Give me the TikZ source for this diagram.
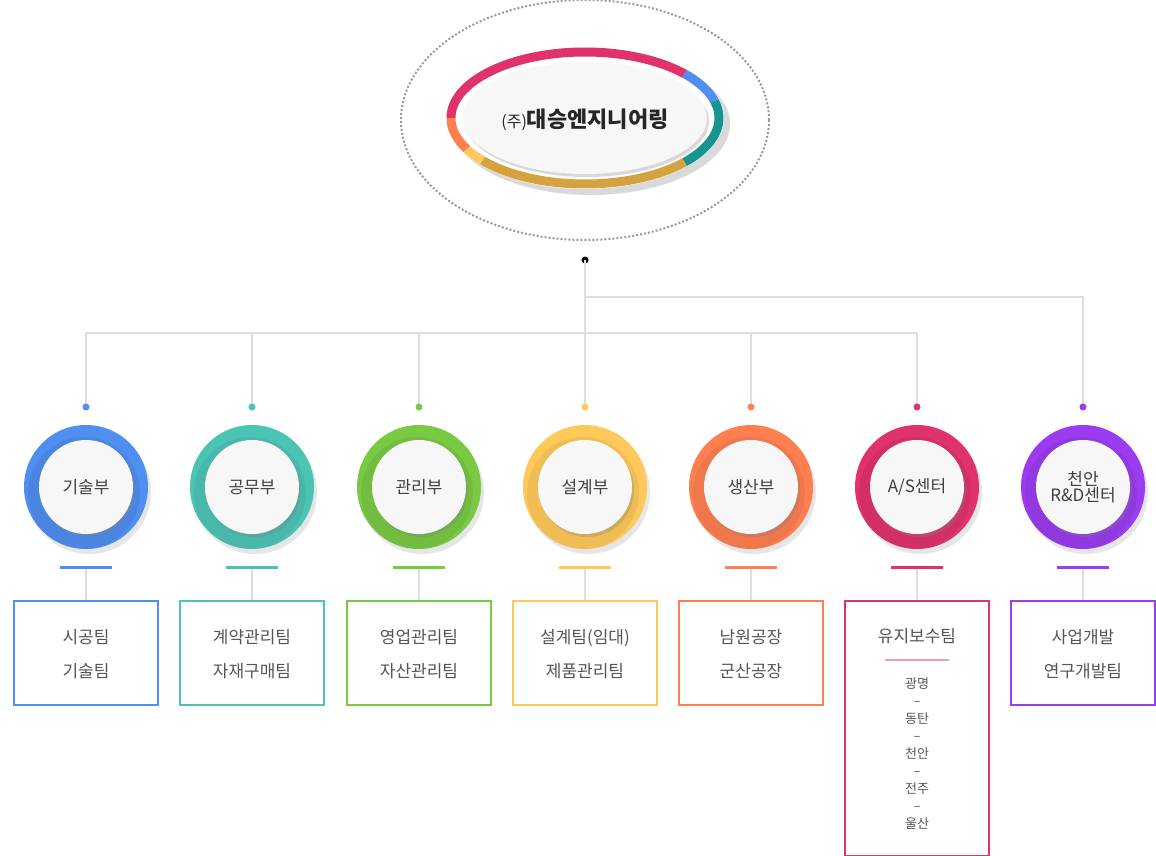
\documentclass[tikz,border=0pt]{standalone}
\usepackage{fontspec}
\setmainfont{Noto Sans CJK KR}
\usetikzlibrary{shadows,calc}
\definecolor{cBlue}{HTML}{4F8FF0}
\definecolor{cTeal}{HTML}{4CC4B4}
\definecolor{cGreen}{HTML}{7AC943}
\definecolor{cYellow}{HTML}{FFC85A}
\definecolor{cOrange}{HTML}{FF7F50}
\definecolor{cPink}{HTML}{E0336B}
\definecolor{cPurple}{HTML}{9B3CF0}
\definecolor{cGold}{HTML}{D4A23E}
\definecolor{lineGray}{HTML}{DDDDDD}
\definecolor{txt}{HTML}{555555}
\tikzset{
  wire/.style={lineGray, line width=2pt},
  ring/.style={circle, minimum size=124pt, inner sep=0pt},
  knob/.style={circle, minimum size=94pt, inner sep=0pt, fill=gray!6, drop shadow={opacity=0.3, shadow xshift=2pt, shadow yshift=-3pt}, font=\fontsize{17}{19}\selectfont, text=black!75, align=center},
  teambox/.style={draw, line width=1.5pt, minimum width=144pt, minimum height=104pt, anchor=north, inner sep=0pt},
  teamtxt/.style={font=\fontsize{17}{34}\selectfont, text=txt, align=center},
}
\begin{document}
\begin{tikzpicture}[x=1pt, y=-1pt]
    \useasboundingbox (0,0) rectangle (1156,856);
    % top
    \draw[gray!80, line width=2pt, dotted] (585,120) ellipse [x radius=184, y radius=120];
    \fill[white, drop shadow={opacity=0.3, shadow xshift=6pt, shadow yshift=-6pt}] (585,118) ellipse [x radius=139, y radius=71];
    \draw[cPink, line width=9pt] (585,118) ++(180:134 and 66) arc [start angle=180, end angle=318, x radius=134, y radius=66];
    \draw[cBlue, line width=9pt] (585,118) ++(318:134 and 66) arc [start angle=318, end angle=345, x radius=134, y radius=66];
    \draw[teal!70!cTeal, line width=9pt] (585,118) ++(345:134 and 66) arc [start angle=345, end angle=402, x radius=134, y radius=66];
    \draw[cGold, line width=9pt] (585,118) ++(42:134 and 66) arc [start angle=42, end angle=140, x radius=134, y radius=66];
    \draw[cYellow, line width=9pt] (585,118) ++(140:134 and 66) arc [start angle=140, end angle=152, x radius=134, y radius=66];
    \draw[cOrange, line width=9pt] (585,118) ++(152:134 and 66) arc [start angle=152, end angle=180, x radius=134, y radius=66];
    \fill[gray!6, drop shadow={opacity=0.3, shadow xshift=2pt, shadow yshift=-3pt}] (585,118) ellipse [x radius=122, y radius=56];
    \node[font=\fontsize{22}{24}\selectfont\bfseries, text=black!85] (top) at (585,120) {{\fontsize{16}{17}\selectfont\mdseries (주)}대승엔지니어링};
    %
    \coordinate (root) at (585,260);
    \coordinate (bus) at (585,333);
    \coordinate (bus2) at (585,297);
    \fill (root) circle (3.5pt);
    \draw[wire] (root) -- (bus);
    \draw[wire] (86,333) -- (917,333);
    \draw[wire] (bus2) -- (1083,297) -- (1083,407);
    %
    \foreach \x/\c/\name/\lbl in {
        86/cBlue/d1/기술부,
        252/cTeal/d2/공무부,
        419/cGreen/d3/관리부,
        585/cYellow/d4/설계부,
        751/cOrange/d5/생산부,
        917/cPink/d6/{A/S센터},
        1083/cPurple/d7/{천안\\[-3pt]R\&D센터}}{
        \ifnum\x<1000 \draw[wire] (\x,333) -- (\x,407); \fi
        \fill[\c] (\x,407) circle (3.5pt);
        \node[ring, fill=\c, drop shadow={opacity=0.2, shadow xshift=3pt, shadow yshift=-5pt}] (\name) at (\x,487) {};
        \fill[black, opacity=0.06] (\name.center) ++(-2,6) circle (56pt);
        \node[knob] (\name k) at (\x,487) {\lbl};
        \draw[\c, line width=3pt] (\x-26,567) -- (\x+26,567);
        \coordinate (\name b) at (\x,600);
        \draw[wire] (\x,569) -- (\name b);
    }
    % team boxes
    \foreach \c/\name/\ta/\tb in {
        cBlue/d1/시공팀/기술팀,
        cTeal/d2/계약관리팀/자재구매팀,
        cGreen/d3/영업관리팀/자산관리팀,
        cYellow/d4/설계팀(임대)/제품관리팀,
        cOrange/d5/남원공장/군산공장,
        cPurple/d7/사업개발/연구개발팀}{
        \node[teambox, draw=\c] (\name t) at (\name b) {};
        \node[teamtxt] at ($(\name t.center)+(0,1)$) {\ta\\\tb};
    }
    \node[teambox, draw=cPink, minimum height=255pt] (d6t) at (d6b) {};
    \node[teamtxt] (d6x) at (917,636) {유지보수팀};
    \draw[cPink!50, line width=1.5pt] (885,660) -- (949,660);
    \node[font=\fontsize{13}{17.5}\selectfont, text=txt, align=center, anchor=north] (d6s) at (917,674) {광명\\–\\동탄\\–\\천안\\–\\전주\\–\\울산};
\end{tikzpicture}
\end{document}
